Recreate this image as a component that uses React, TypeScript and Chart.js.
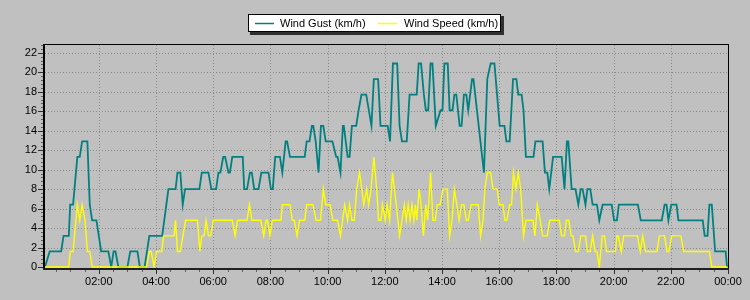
import React, { useEffect, useRef } from "react";
import { Chart, registerables } from "chart.js";

Chart.register(...registerables);

// Time of each vertex in minutes after midnight
const gustTimes = [7, 17, 41, 46, 57, 60, 66, 75, 80, 85, 96, 101, 106, 115, 125, 140, 146, 151, 155, 161, 180, 186, 201, 206, 216, 226, 253, 266, 281, 285, 291, 296, 301, 331, 336, 350, 356, 366, 371, 375, 381, 385, 392, 395, 400, 422, 425, 431, 437, 441, 446, 455, 461, 476, 481, 485, 490, 500, 505, 512, 515, 521, 552, 556, 562, 567, 570, 575, 581, 586, 591, 596, 610, 618, 621, 627, 632, 634, 642, 646, 651, 660, 665, 671, 681, 692, 697, 706, 711, 726, 731, 737, 746, 751, 756, 766, 772, 787, 791, 796, 802, 806, 811, 816, 820, 827, 837, 841, 845, 852, 856, 862, 866, 870, 877, 881, 886, 891, 895, 903, 906, 928, 935, 942, 950, 961, 971, 975, 982, 989, 996, 1000, 1007, 1011, 1016, 1032, 1036, 1051, 1056, 1061, 1065, 1073, 1091, 1097, 1102, 1105, 1112, 1120, 1126, 1131, 1135, 1141, 1145, 1151, 1156, 1165, 1170, 1177, 1196, 1201, 1207, 1211, 1251, 1257, 1301, 1307, 1311, 1315, 1321, 1332, 1336, 1387, 1391, 1397, 1401, 1406, 1413, 1435, 1438];
const gustValues = [0, 1.6, 1.6, 3.2, 3.2, 6.4, 6.4, 11.3, 11.3, 12.9, 12.9, 6.4, 4.8, 4.8, 1.6, 1.6, 0, 1.6, 1.6, 0, 0, 1.6, 1.6, 0, 0, 3.2, 3.2, 8.0, 8.0, 9.7, 9.7, 6.4, 8.0, 8.0, 9.7, 9.7, 8.0, 8.0, 9.7, 9.7, 11.3, 11.3, 9.7, 9.7, 11.3, 11.3, 8.0, 8.0, 9.7, 9.7, 8.0, 8.0, 9.7, 9.7, 8.0, 8.0, 11.3, 11.3, 9.7, 12.9, 12.9, 11.3, 11.3, 12.9, 12.9, 14.5, 14.5, 12.9, 9.7, 14.5, 14.5, 12.9, 12.9, 11.3, 11.3, 9.7, 14.5, 14.5, 11.3, 11.3, 14.5, 14.5, 16.1, 17.7, 17.7, 14.5, 19.3, 19.3, 14.5, 14.5, 12.9, 20.9, 20.9, 14.5, 12.9, 12.9, 17.7, 17.7, 20.9, 20.9, 17.7, 16.1, 16.1, 20.9, 20.9, 14.5, 16.1, 16.1, 20.9, 20.9, 16.1, 16.1, 17.7, 17.7, 14.5, 14.5, 17.7, 17.7, 16.1, 19.3, 19.3, 9.7, 19.3, 20.9, 20.9, 14.5, 14.5, 12.9, 12.9, 19.3, 19.3, 17.7, 17.7, 16.1, 11.3, 11.3, 12.9, 12.9, 9.7, 9.7, 8.0, 11.3, 11.3, 8.0, 12.9, 12.9, 8.0, 8.0, 6.4, 8.0, 8.0, 6.4, 8.0, 8.0, 6.4, 6.4, 4.8, 6.4, 6.4, 4.8, 4.8, 6.4, 6.4, 4.8, 4.8, 6.4, 6.4, 4.8, 6.4, 6.4, 4.8, 4.8, 3.2, 3.2, 6.4, 6.4, 1.6, 1.6, 0];

const speedTimes = [7, 57, 60, 66, 75, 80, 85, 91, 96, 101, 106, 220, 226, 230, 236, 241, 252, 256, 278, 281, 285, 291, 302, 327, 332, 336, 341, 345, 350, 355, 360, 400, 406, 411, 431, 436, 441, 460, 466, 471, 474, 479, 484, 502, 505, 521, 526, 530, 536, 541, 552, 556, 569, 576, 585, 591, 596, 605, 611, 621, 627, 636, 642, 646, 651, 656, 661, 667, 676, 682, 686, 691, 697, 703, 707, 712, 715, 721, 725, 730, 736, 744, 751, 756, 761, 765, 769, 773, 777, 781, 784, 787, 792, 796, 801, 806, 810, 816, 821, 826, 830, 836, 842, 851, 856, 861, 866, 871, 876, 881, 886, 891, 895, 901, 916, 921, 926, 930, 935, 942, 947, 956, 960, 968, 972, 976, 982, 986, 990, 995, 1000, 1005, 1011, 1016, 1031, 1035, 1040, 1046, 1051, 1061, 1066, 1086, 1091, 1097, 1101, 1106, 1111, 1115, 1120, 1126, 1131, 1141, 1145, 1151, 1156, 1161, 1165, 1170, 1176, 1181, 1185, 1204, 1207, 1210, 1216, 1221, 1250, 1256, 1261, 1267, 1291, 1296, 1307, 1312, 1316, 1322, 1341, 1347, 1401, 1406, 1439];
const speedValues = [0, 0, 1.6, 1.6, 6.4, 4.8, 6.4, 4.8, 1.6, 1.6, 0, 0, 1.6, 1.6, 0, 1.6, 1.6, 3.2, 3.2, 4.8, 1.6, 1.6, 4.8, 4.8, 1.6, 3.2, 3.2, 4.8, 3.2, 3.2, 4.8, 4.8, 3.2, 4.8, 4.8, 6.4, 4.8, 4.8, 3.2, 4.8, 4.8, 3.2, 4.8, 4.8, 6.4, 6.4, 4.8, 4.8, 3.2, 4.8, 4.8, 6.4, 6.4, 4.8, 4.8, 8.0, 6.4, 6.4, 4.8, 4.8, 3.2, 6.4, 4.8, 6.4, 4.8, 4.8, 8.0, 9.7, 6.4, 8.0, 6.4, 8.0, 11.3, 8.0, 4.8, 4.8, 6.4, 4.8, 6.4, 4.8, 9.7, 6.4, 3.2, 4.8, 6.4, 4.8, 6.4, 4.8, 6.4, 4.8, 6.4, 4.8, 8.0, 6.4, 3.2, 6.4, 4.8, 9.7, 4.8, 4.8, 6.4, 6.4, 8.0, 8.0, 3.2, 4.8, 8.0, 6.4, 4.8, 6.4, 6.4, 4.8, 4.8, 6.4, 6.4, 3.2, 4.8, 8.0, 9.7, 9.7, 8.0, 8.0, 6.4, 6.4, 4.8, 4.8, 6.4, 6.4, 9.7, 8.0, 9.7, 8.0, 3.2, 4.8, 4.8, 3.2, 6.4, 4.8, 3.2, 3.2, 4.8, 4.8, 3.2, 3.2, 4.8, 4.8, 3.2, 3.2, 1.6, 1.6, 3.2, 3.2, 1.6, 1.6, 3.2, 1.6, 1.6, 0, 3.2, 3.2, 1.6, 1.6, 3.2, 3.2, 1.6, 3.2, 3.2, 1.6, 3.2, 1.6, 1.6, 3.2, 3.2, 1.6, 1.6, 3.2, 3.2, 1.6, 1.6, 0, 0];

const seriesLabels = ["Wind Gust (km/h)", "Wind Speed (km/h)"];
const seriesColors = ["#008080", "#ffff00"];
const yTickValues = [0, 2, 4, 6, 8, 10, 12, 14, 16, 18, 20, 22];
const xTickValues = [120, 240, 360, 480, 600, 720, 840, 960, 1080, 1200, 1320, 1440];

const X_MIN = 5;
const X_MAX = 1440;
const Y_MIN = -0.1;
const Y_MAX = 22.9;

function fmtTime(m: number): string {
  const mm = ((m % 1440) + 1440) % 1440;
  const h = Math.floor(mm / 60);
  const mi = mm % 60;
  return String(h).padStart(2, "0") + ":" + String(mi).padStart(2, "0");
}

const FONT = "'Liberation Sans', Arial, sans-serif";

const decorPlugin = {
  id: "decor",
  beforeDatasetsDraw(chart: any) {
    const { ctx, chartArea: a, scales } = chart;
    ctx.save();
    ctx.strokeStyle = "#8a8a8a";
    ctx.lineWidth = 1;
    ctx.setLineDash([1, 2]);
    for (const v of yTickValues) {
      if (v === 0) continue;
      const y = Math.round(scales.y.getPixelForValue(v)) + 0.5;
      ctx.beginPath();
      ctx.moveTo(a.left + 1, y);
      ctx.lineTo(a.right, y);
      ctx.stroke();
    }
    for (const v of xTickValues) {
      if (v >= X_MAX) continue;
      const x = Math.round(scales.x.getPixelForValue(v)) + 0.5;
      ctx.beginPath();
      ctx.moveTo(x, a.top + 1);
      ctx.lineTo(x, a.bottom);
      ctx.stroke();
    }
    ctx.restore();
  },
  afterDraw(chart: any) {
    const { ctx, chartArea: a, scales } = chart;
    ctx.save();
    // frame
    ctx.fillStyle = "#000";
    ctx.fillRect(a.left, a.top, a.right - a.left + 1, 1);
    ctx.fillRect(a.right, a.top, 1, a.bottom - a.top + 2);
    ctx.fillRect(a.left - 1, a.top, 2, a.bottom - a.top + 2);
    ctx.fillStyle = "#202020";
    ctx.fillRect(a.left - 1, a.bottom, a.right - a.left + 2, 2);

    // y tick marks (major + minor)
    for (let i = 0; i <= 57; i++) {
      const v = i * 0.4;
      if (v > Y_MAX) break;
      const y = Math.round(scales.y.getPixelForValue(v)) + 0.5;
      const major = i % 5 === 0;
      ctx.strokeStyle = major ? "#303030" : "#606060";
      ctx.lineWidth = 1;
      ctx.beginPath();
      ctx.moveTo(a.left - (major ? 6 : 3), y);
      ctx.lineTo(a.left - 1, y);
      ctx.stroke();
    }
    // x tick marks
    for (let m = 30; m <= X_MAX; m += 30) {
      const x = Math.round(scales.x.getPixelForValue(m)) + 0.5;
      const major = m % 120 === 0;
      ctx.strokeStyle = major ? "#303030" : "#606060";
      ctx.beginPath();
      ctx.moveTo(x, a.bottom + 2);
      ctx.lineTo(x, a.bottom + (major ? 6 : 4));
      ctx.stroke();
    }

    // legend box
    const bx = 248, by = 14, bw = 253, bh = 18;
    ctx.fillStyle = "#303030";
    ctx.fillRect(bx + 2, by + 2, bw + 1, bh + 1);
    ctx.fillStyle = "#ffffff";
    ctx.fillRect(bx, by, bw, bh);
    ctx.strokeStyle = "#000";
    ctx.lineWidth = 1;
    ctx.strokeRect(bx + 0.5, by + 0.5, bw - 1, bh - 1);

    const items = [
      { x0: 255, x1: 274, tx: 280 },
      { x0: 378, x1: 397, tx: 404 },
    ];
    ctx.font = "11px " + FONT;
    ctx.textBaseline = "middle";
    ctx.textAlign = "left";
    items.forEach((it, i) => {
      ctx.strokeStyle = seriesColors[i];
      ctx.lineWidth = 1.5;
      ctx.beginPath();
      ctx.moveTo(it.x0, 23.5);
      ctx.lineTo(it.x1, 23.5);
      ctx.stroke();
      ctx.fillStyle = "#000";
      ctx.fillText(seriesLabels[i], it.tx, 23.5);
    });
    ctx.restore();
  },
};

export default function App() {
  const ref = useRef<HTMLCanvasElement | null>(null);

  useEffect(() => {
    if (!ref.current) return;
    const gustData = gustTimes.map((t, i) => ({ x: t, y: gustValues[i] }));
    const speedData = speedTimes.map((t, i) => ({ x: t, y: speedValues[i] }));

    const chart = new Chart(ref.current, {
      type: "line",
      data: {
        datasets: [
          {
            label: seriesLabels[1],
            data: speedData,
            borderColor: seriesColors[1],
            borderWidth: 1.4,
            pointRadius: 0,
            tension: 0,
            fill: false,
            order: 0,
          },
          {
            label: seriesLabels[0],
            data: gustData,
            borderColor: seriesColors[0],
            borderWidth: 1.8,
            pointRadius: 0,
            tension: 0,
            fill: false,
            order: 1,
          },
        ],
      },
      options: {
        responsive: false,
        animation: false,
        devicePixelRatio: 1,
        layout: { padding: { top: 44, right: 22, left: 0, bottom: 0 } },
        plugins: {
          legend: { display: false },
          tooltip: { enabled: false },
          title: { display: false },
        },
        scales: {
          x: {
            type: "linear",
            min: X_MIN,
            max: X_MAX,
            grid: { display: false, drawTicks: false },
            border: { display: false },
            afterBuildTicks: (s: any) => {
              s.ticks = xTickValues.map((v) => ({ value: v }));
            },
            afterFit: (s: any) => {
              s.height = 32;
            },
            ticks: {
              autoSkip: false,
              maxRotation: 0,
              minRotation: 0,
              padding: 7,
              color: "#000",
              font: { family: FONT, size: 11 },
              callback: (v: any) => fmtTime(Number(v)),
            },
          },
          y: {
            type: "linear",
            min: Y_MIN,
            max: Y_MAX,
            grid: { display: false, drawTicks: false },
            border: { display: false },
            afterBuildTicks: (s: any) => {
              s.ticks = yTickValues.map((v) => ({ value: v }));
            },
            afterFit: (s: any) => {
              s.width = 44;
            },
            ticks: {
              autoSkip: false,
              padding: 7,
              color: "#000",
              font: { family: FONT, size: 11 },
              callback: (v: any) => String(v),
            },
          },
        },
      },
      plugins: [decorPlugin],
    });
    return () => chart.destroy();
  }, []);

  return (
    <div
      style={{
        position: "fixed",
        left: 0,
        top: 0,
        width: 750,
        height: 300,
        background: "#c0c0c0",
      }}
    >
      <canvas ref={ref} width={750} height={300} style={{ display: "block" }} />
    </div>
  );
}
